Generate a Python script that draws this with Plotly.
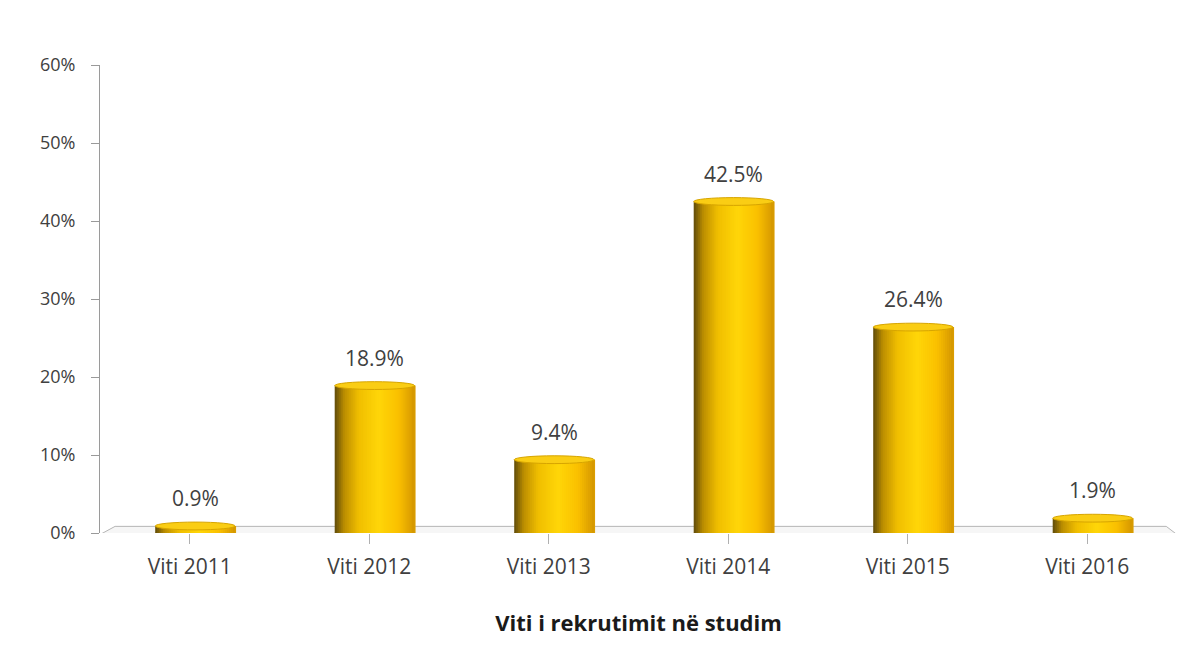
import plotly.graph_objects as go

categories = ["Viti 2011", "Viti 2012", "Viti 2013", "Viti 2014", "Viti 2015", "Viti 2016"]
values = [0.009, 0.189, 0.094, 0.425, 0.264, 0.019]
labels = ["0.9%", "18.9%", "9.4%", "42.5%", "26.4%", "1.9%"]
y_ticks = [0, 0.1, 0.2, 0.3, 0.4, 0.5, 0.6]
y_tick_text = ["0%", "10%", "20%", "30%", "40%", "50%", "60%"]
x_title = "Viti i rekrutimit në studim"

FONT = "'Open Sans', sans-serif"
bar_w = 0.445
shift = 0.03
n_strips = 40

stops = [(0.0, (95, 75, 10)), (0.12, (188, 142, 0)), (0.3, (240, 190, 0)),
         (0.55, (255, 214, 8)), (0.8, (250, 192, 0)), (1.0, (212, 150, 0))]

def shade(t):
    for (t0, c0), (t1, c1) in zip(stops[:-1], stops[1:]):
        if t0 <= t <= t1:
            f = (t - t0) / (t1 - t0)
            c = [int(round(a + (b - a) * f)) for a, b in zip(c0, c1)]
            return "rgb(%d,%d,%d)" % tuple(c)
    return "rgb(212,150,0)"

fig = go.Figure()
xs = list(range(len(categories)))
sw = bar_w / n_strips
for i in range(n_strips):
    t = (i + 0.5) / n_strips
    w = sw * (2.5 if i < n_strips - 1 else 1.0)
    fig.add_trace(go.Bar(
        x=xs, y=values, width=w, offset=-bar_w / 2 + shift + i * sw,
        marker=dict(color=shade(t), line=dict(width=0)),
        hoverinfo="skip", showlegend=False))

cap_h = 0.005
annotations = []
for x, v, lab in zip(xs, values, labels):
    annotations.append(dict(x=x + shift, y=v + cap_h, xref="x", yref="y", text=lab,
                            showarrow=False, yanchor="bottom", yshift=8,
                            font=dict(family=FONT, size=21, color="#404040")))

shapes = []
# floor plane
shapes.append(dict(type="path", xref="paper", yref="y",
                   path="M 0 -0.002 L 0.014 0.0085 L 0.99 0.0085 L 1.0 -0.002 Z",
                   line=dict(color="#b5b5b5", width=1), fillcolor="rgba(242,242,242,0.7)",
                   layer="below"))
for x, v in zip(xs, values):
    x0 = x - bar_w / 2 + shift
    x1 = x + bar_w / 2 + shift
    shapes.append(dict(type="circle", xref="x", yref="y", x0=x0, x1=x1,
                       y0=-cap_h, y1=cap_h, fillcolor="rgb(205,150,0)",
                       line=dict(width=0), layer="below"))
    shapes.append(dict(type="circle", xref="x", yref="y", x0=x0, x1=x1,
                       y0=v - cap_h, y1=v + cap_h, fillcolor="rgb(250,205,20)",
                       line=dict(color="rgb(215,165,0)", width=1), layer="above"))

fig.update_layout(
    barmode="overlay",
    width=1203, height=653,
    margin=dict(l=100, r=26, t=65, b=120),
    paper_bgcolor="white", plot_bgcolor="white",
    shapes=shapes,
    annotations=annotations,
    xaxis=dict(
        tickmode="array", tickvals=xs, ticktext=categories,
        range=[-0.5, 5.5], showline=False, showgrid=False,
        ticks="outside", tickson="boundaries", ticklen=10, tickcolor="#b0b0b0",
        ticklabelstandoff=5,
        tickfont=dict(family=FONT, size=21, color="#404040"),
        title=dict(text="<b>" + x_title + "</b>",
                   font=dict(family=FONT, size=22, color="#1a1a1a"), standoff=36),
    ),
    yaxis=dict(
        tickmode="array", tickvals=y_ticks, ticktext=y_tick_text,
        range=[0, 0.6], showgrid=False, showline=True, linecolor="#9a9a9a", linewidth=1,
        ticks="outside", ticklen=8, tickcolor="#9a9a9a",
        ticklabelstandoff=12,
        tickfont=dict(family=FONT, size=18, color="#404040"),
        zeroline=False,
    ),
)

fig.write_html("out.html")
